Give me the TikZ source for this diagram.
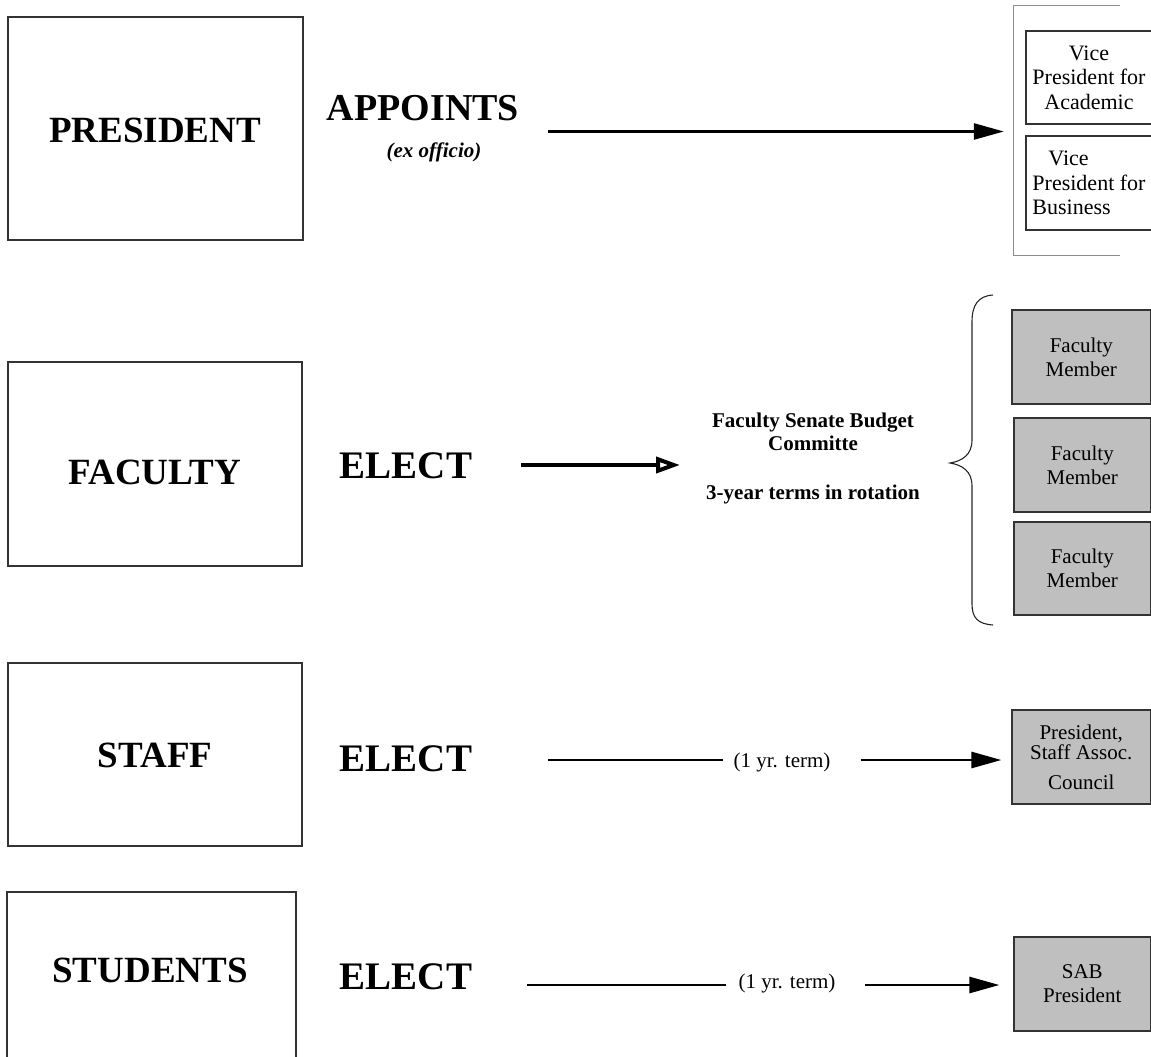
\documentclass[tikz,border=0pt]{standalone}
\usepackage{fontspec}
\setmainfont{Liberation Serif}
\usetikzlibrary{arrows.meta,calc}

\tikzset{
  unitbox/.style={draw=black!80,line width=1.2pt,inner sep=0pt},
  unitname/.style={font=\fontsize{37}{40}\selectfont\bfseries,inner sep=0pt},
  verbname/.style={font=\fontsize{39}{42}\selectfont\bfseries,inner sep=0pt},
  seatbox/.style={draw=black!80,line width=1.2pt,fill=black!25,inner sep=0pt,
    align=center,font=\fontsize{21}{24}\selectfont},
  vpbox/.style={draw=black!80,line width=1.2pt,fill=white,inner sep=0pt,
    minimum width=126pt,align=center,font=\fontsize{22}{24.5}\selectfont},
  termnote/.style={font=\fontsize{21}{24}\selectfont,inner sep=0pt},
  committee/.style={font=\fontsize{21}{23}\selectfont\bfseries,align=center,inner sep=0pt},
  thinline/.style={line width=2.7pt},
  thinarrow/.style={line width=2.7pt,-{Triangle[length=30pt,width=16pt]}},
}

\begin{document}
\begin{tikzpicture}[x=1pt,y=-1pt,line join=miter]
  \useasboundingbox (0,0) rectangle (1151,1057);
  \clip (0,0) rectangle (1151,1057);

  % left column
  \node[unitbox,minimum width=295pt,minimum height=223pt] (presbox) at (155.5,128.5) {};
  \node[unitbox,minimum width=294pt,minimum height=204pt] (facbox) at (155,464) {};
  \node[unitbox,minimum width=294pt,minimum height=183pt] (staffbox) at (155,754.5) {};
  \node[unitbox,minimum width=289pt,minimum height=183pt] (studbox) at (151.5,983.5) {};
  \node[unitname] (preslbl) at (155,130) {PRESIDENT};
  \node[unitname] (faclbl) at (155,472) {FACULTY};
  \node[unitname] (stafflbl) at (155,755) {STAFF};
  \node[unitname] (studlbl) at (150,970) {STUDENTS};

  % verbs
  \node[verbname,font=\fontsize{38}{42}\selectfont\bfseries] (appoints) at (423,108) {APPOINTS};
  \node[font=\fontsize{21}{24}\selectfont\bfseries\itshape,inner sep=0pt] (exofficio) at (434,152) {(ex officio)};
  \node[verbname] (elect1) at (406,466) {ELECT};
  \node[verbname] (elect2) at (406,759) {ELECT};
  \node[verbname] (elect3) at (406,977) {ELECT};

  % vice presidents
  \node[minimum width=136pt,minimum height=250pt,inner sep=0pt] (vpgrp) at (1082,130.5) {};
  \draw[black!45,line width=1.2pt] ($(vpgrp.north east)+(-30,0)$) -- (vpgrp.north west)
    -- (vpgrp.south west) -- ($(vpgrp.south east)+(-30,0)$);
  \node[vpbox,minimum height=93pt] (vpacad) at (1089,77.5) {Vice\\President for\\Academic};
  \node[vpbox,minimum height=94pt,align=left] (vpbus) at (1089,183) {\hspace{16pt}Vice\\President for\\Business};

  % faculty senate budget committee
  \node[committee] (fsbc) at (813,432) {Faculty Senate Budget\\Committe};
  \node[committee] (fsterm) at (813,494) {3-year terms in rotation};
  \draw[black!85,line width=1.1pt] (993,295) .. controls (978,296) and (972,305) .. (972,322)
    -- (972,440) .. controls (972,455) and (962,461) .. (950,463)
    .. controls (962,465) and (972,471) .. (972,486)
    -- (972,604) .. controls (972,618) and (978,624) .. (993,625);
  \node[seatbox,minimum width=138.5pt,minimum height=94pt] (seat1) at (1081.25,357) {Faculty\\Member};
  \node[seatbox,minimum width=136.5pt,minimum height=94pt] (seat2) at (1082.25,465) {Faculty\\Member};
  \node[seatbox,minimum width=136.5pt,minimum height=93pt] (seat3) at (1082.25,568.5) {Faculty\\Member};

  % staff and students seats
  \node[seatbox,minimum width=138.5pt,minimum height=94pt] (council) at (1081.25,757)
    {President,\\[-4pt]Staff Assoc.\\[6pt]Council};
  \node[seatbox,minimum width=136.5pt,minimum height=94pt] (sab) at (1082.25,984) {SAB\\President};
  \node[termnote] (stterm) at (782,762) {(1 yr. term)};
  \node[termnote] (sdterm) at (787,983) {(1 yr. term)};

  % connectors
  \coordinate (aptail) at (548,131.5);
  \draw[thinarrow] (aptail) -- ($(aptail -| vpgrp.west)+(-10,0)$);
  \coordinate (factail) at (521,465);
  \coordinate (fachead) at (680,465);
  \draw[line width=4pt,-{Triangle[open,length=24pt,width=16pt]}] (factail) -- (fachead);
  \coordinate (sttail) at (548,760);
  \draw[thinline] (sttail) -- ($(sttail -| stterm.west)+(-10,0)$);
  \draw[thinarrow] ($(sttail -| stterm.east)+(30,0)$) -- ($(sttail -| council.west)+(-10,0)$);
  \coordinate (sdtail) at (527,985);
  \draw[thinline] (sdtail) -- ($(sdtail -| sdterm.west)+(-12,0)$);
  \draw[thinarrow] ($(sdtail -| sdterm.east)+(29,0)$) -- ($(sdtail -| sab.west)+(-14,0)$);
\end{tikzpicture}
\end{document}
